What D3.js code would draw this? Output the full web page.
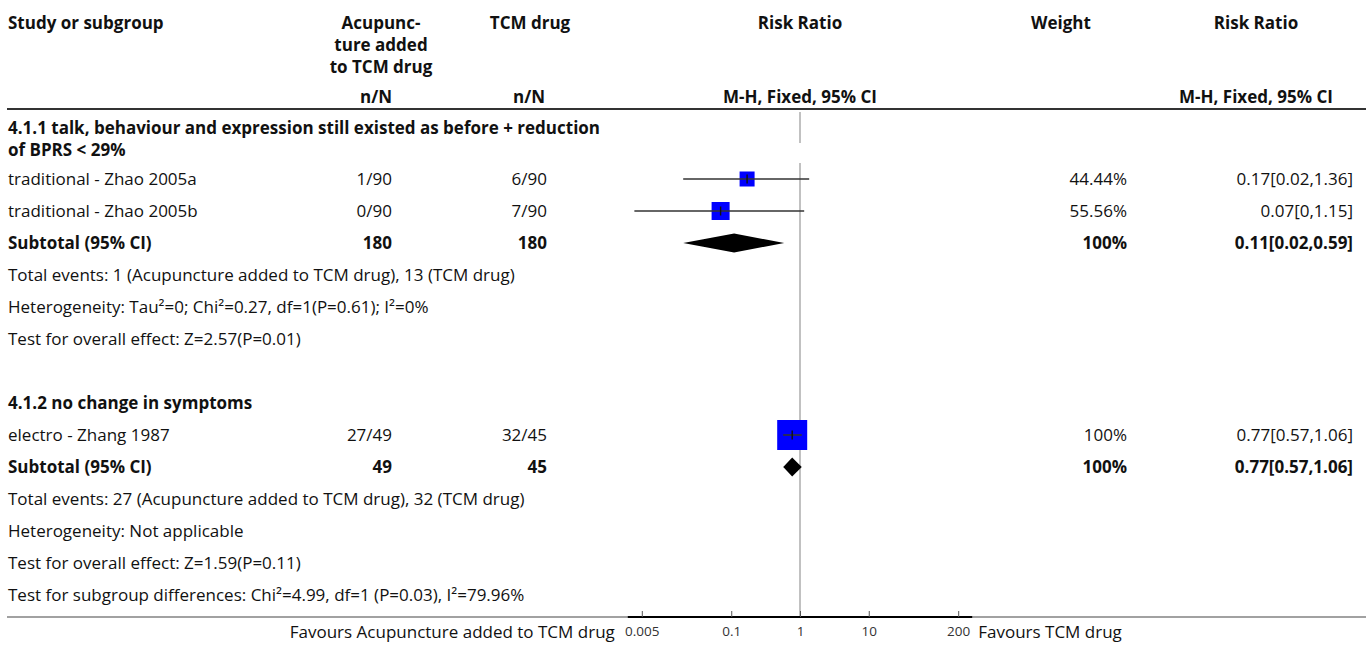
<!DOCTYPE html>
<html>
<head>
<meta charset="utf-8">
<script src="https://cdn.jsdelivr.net/npm/d3@7"></script>
<style>
  html, body { margin: 0; padding: 0; background: #fff; }
  svg { display: block; font-family: "Open Sans", "Noto Sans", sans-serif; }
  text { fill: #111; }
  .b { font-weight: 700; }
</style>
</head>
<body>
<svg id="chart" width="1372" height="646"></svg>
<script>
// ---- data ---------------------------------------------------------------
const studyNames   = ["traditional - Zhao 2005a", "traditional - Zhao 2005b", "electro - Zhang 1987"];
const studyGroup   = [0, 0, 1];
const acuEvents    = [1, 0, 27];
const acuTotal     = [90, 90, 49];
const tcmEvents    = [6, 7, 32];
const tcmTotal     = [90, 90, 45];
const studyRR      = [0.17, 0.07, 0.77];
const studyLower   = [0.02, 0.0039, 0.57];
const studyUpper   = [1.36, 1.15, 1.06];
const studyWeight  = [44.44, 55.56, 100];

const groupTitles  = [
  ["4.1.1 talk, behaviour and expression still existed as before + reduction", "of BPRS < 29%"],
  ["4.1.2 no change in symptoms"]
];
const groupAcuTotal = [180, 49];
const groupTcmTotal = [180, 45];
const groupRR       = [0.11, 0.77];
const groupLower    = [0.02, 0.57];
const groupUpper    = [0.59, 1.06];
const groupWeight   = [100, 100];
const groupNotes    = [
  ["Total events: 1 (Acupuncture added to TCM drug), 13 (TCM drug)",
   "Heterogeneity: Tau\u00B2=0; Chi\u00B2=0.27, df=1(P=0.61); I\u00B2=0%",
   "Test for overall effect: Z=2.57(P=0.01)"],
  ["Total events: 27 (Acupuncture added to TCM drug), 32 (TCM drug)",
   "Heterogeneity: Not applicable",
   "Test for overall effect: Z=1.59(P=0.11)"]
];
const subgroupTest = "Test for subgroup differences: Chi\u00B2=4.99, df=1 (P=0.03), I\u00B2=79.96%";

const tickValues = [0.005, 0.1, 1, 10, 200];
const tickLabels = ["0.005", "0.1", "1", "10", "200"];
const favourLeft  = "Favours Acupuncture added to TCM drug";
const favourRight = "Favours TCM drug";

// ---- layout -------------------------------------------------------------
const svg = d3.select("#chart");
const FS = 17;
const col = { study: 8, acu: 392, acuHead: 381, tcm: 547, tcmHead: 530,
              plot: 800, weight: 1127, weightHead: 1061, rr: 1353, rrHead: 1256 };
const rowY = k => 179 + 32 * (k - 1);
const axisY = 617;

const x = d3.scaleLog().domain([0.005, 200]).range([641.8, 958.2]);
const boxSize = d3.scaleLinear().domain([0, 100]).range([3, 30]);
const fmt = d3.format(".2~f");
const ciLabel = (r, l, u) => `${fmt(r)}[${fmt(l)},${fmt(u)}]`;

function txt(xp, yp, s, anchor, bold, size) {
  return svg.append("text")
    .attr("x", xp).attr("y", yp)
    .attr("dy", "0.35em")
    .attr("text-anchor", anchor || "start")
    .attr("class", bold ? "b" : null)
    .style("font-size", (size || FS) + "px")
    .text(s);
}

// ---- header -------------------------------------------------------------
txt(col.study, 23, "Study or subgroup", "start", true);
["Acupunc-", "ture added", "to TCM drug"].forEach((s, i) => txt(col.acuHead, 23 + 22 * i, s, "middle", true));
txt(col.tcmHead, 23, "TCM drug", "middle", true);
txt(col.plot, 23, "Risk Ratio", "middle", true);
txt(col.weightHead, 23, "Weight", "middle", true);
txt(col.rrHead, 23, "Risk Ratio", "middle", true);
txt(col.acu, 97, "n/N", "end", true);
txt(col.tcm - 2, 97, "n/N", "end", true);
txt(col.plot, 97, "M-H, Fixed, 95% CI", "middle", true);
txt(col.rrHead, 97, "M-H, Fixed, 95% CI", "middle", true);

svg.append("line").attr("x1", 7).attr("x2", 1366).attr("y1", 109).attr("y2", 109)
  .attr("stroke", "#333").attr("stroke-width", 2);

// ---- line of no effect --------------------------------------------------
const nullLine = svg.append("g").attr("stroke", "#a0a0a0").attr("stroke-width", 1.3);
nullLine.append("line").attr("x1", x(1)).attr("x2", x(1)).attr("y1", 112).attr("y2", 143);
nullLine.append("line").attr("x1", x(1)).attr("x2", x(1)).attr("y1", 163).attr("y2", axisY);

// ---- rows ---------------------------------------------------------------
const groupStartRow = [0, 8];
groupTitles.forEach((lines, g) => {
  const k = groupStartRow[g];
  if (lines.length === 2) {
    txt(col.study, rowY(k) - 19, lines[0], "start", true);
    txt(col.study, rowY(k) + 3, lines[1], "start", true);
  } else {
    txt(col.study, rowY(k), lines[0], "start", true);
  }

  const members = studyNames.map((_, i) => i).filter(i => studyGroup[i] === g);
  members.forEach((i, j) => {
    const y = rowY(k + 1 + j);
    txt(col.study, y, studyNames[i]);
    txt(col.acu, y, `${acuEvents[i]}/${acuTotal[i]}`, "end");
    txt(col.tcm, y, `${tcmEvents[i]}/${tcmTotal[i]}`, "end");
    txt(col.weight, y, fmt(studyWeight[i]) + "%", "end");
    txt(col.rr, y, ciLabel(studyRR[i], studyLower[i], studyUpper[i]), "end");

    const s = boxSize(studyWeight[i]);
    svg.append("rect")
      .attr("x", x(studyRR[i]) - s / 2).attr("y", y - s / 2)
      .attr("width", s).attr("height", s)
      .attr("fill", "#0000ff");
    svg.append("line")
      .attr("x1", x(studyLower[i])).attr("x2", x(studyUpper[i]))
      .attr("y1", y).attr("y2", y)
      .attr("stroke", "#333").attr("stroke-width", 1.6);
    svg.append("line")
      .attr("x1", x(studyRR[i])).attr("x2", x(studyRR[i]))
      .attr("y1", y - 4.5).attr("y2", y + 4.5)
      .attr("stroke", "#111").attr("stroke-width", 1.4);
  });

  // subtotal row
  const ks = k + 1 + members.length;
  const ys = rowY(ks);
  txt(col.study, ys, "Subtotal (95% CI)", "start", true);
  txt(col.acu, ys, groupAcuTotal[g], "end", true);
  txt(col.tcm, ys, groupTcmTotal[g], "end", true);
  txt(col.weight, ys, fmt(groupWeight[g]) + "%", "end", true);
  txt(col.rr, ys, ciLabel(groupRR[g], groupLower[g], groupUpper[g]), "end", true);
  const h = 9.5;
  svg.append("path")
    .attr("d", `M${x(groupLower[g])},${ys} L${x(groupRR[g])},${ys - h} L${x(groupUpper[g])},${ys} L${x(groupRR[g])},${ys + h} Z`)
    .attr("fill", "#000");

  groupNotes[g].forEach((s, j) => txt(col.study, rowY(ks + 1 + j), s));
});

txt(col.study, rowY(14), subgroupTest);

// ---- bottom rule and axis ----------------------------------------------
svg.append("line").attr("x1", 7).attr("x2", 1366).attr("y1", axisY).attr("y2", axisY)
  .attr("stroke", "#444").attr("stroke-width", 1.2);
const [r0, r1] = x.range();
svg.append("line").attr("x1", r0 - 14).attr("x2", r1 + 14).attr("y1", axisY).attr("y2", axisY)
  .attr("stroke", "#000").attr("stroke-width", 2.2);

const axis = d3.axisBottom(x)
  .tickValues(tickValues)
  .tickFormat((d, i) => tickLabels[i])
  .tickSizeInner(-6).tickSizeOuter(0).tickPadding(9);
const ag = svg.append("g").attr("transform", `translate(0,${axisY})`).call(axis);
ag.select(".domain").remove();
ag.selectAll(".tick line").attr("stroke", "#555");
ag.selectAll(".tick text")
  .style("font-family", "'Open Sans', 'Noto Sans', sans-serif")
  .style("font-size", "13.5px").style("fill", "#333");

txt(r0 - 27, 632, favourLeft, "end");
txt(r1 + 20, 632, favourRight, "start");
</script>
</body>
</html>
